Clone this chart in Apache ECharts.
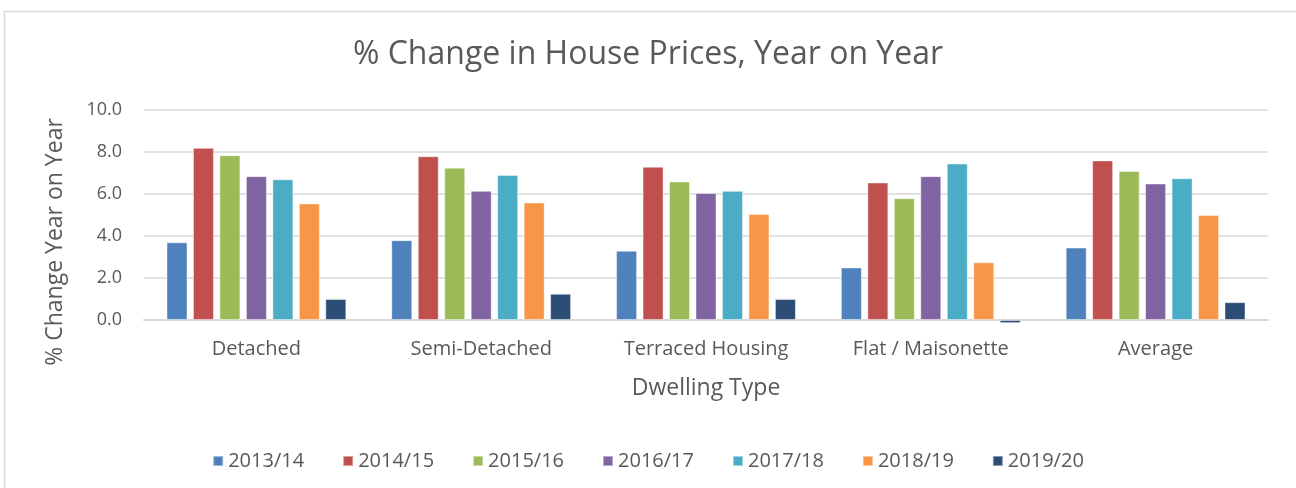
<!DOCTYPE html>
<html lang="en">
<head>
    <meta charset="UTF-8">
    <title>House Prices</title>
    <script src="https://cdn.jsdelivr.net/npm/echarts@6/dist/echarts.min.js"></script>
</head>
<body style="margin:0">
<div id="main" style="width: 1296px;height: 488px"></div>
<script type="text/javascript">
    // data
    var categories = ['Detached', 'Semi-Detached', 'Terraced Housing', 'Flat / Maisonette', 'Average'];
    var years = ['2013/14', '2014/15', '2015/16', '2016/17', '2017/18', '2018/19', '2019/20'];
    var y1314 = [3.7, 3.8, 3.3, 2.5, 3.45];
    var y1415 = [8.2, 7.8, 7.3, 6.55, 7.6];
    var y1516 = [7.85, 7.25, 6.6, 5.8, 7.1];
    var y1617 = [6.85, 6.15, 6.05, 6.85, 6.5];
    var y1718 = [6.7, 6.9, 6.15, 7.45, 6.75];
    var y1819 = [5.55, 5.6, 5.05, 2.75, 5.0];
    var y1920 = [1.0, 1.25, 1.0, -0.15, 0.85];
    var yearValues = [y1314, y1415, y1516, y1617, y1718, y1819, y1920];
    var colors = ['#4f81bd', '#c0504d', '#9bbb59', '#8064a2', '#4bacc6', '#f79646', '#2c4d75'];

    var font = 'Open Sans';
    var myChart = echarts.init(document.getElementById('main'));

    var series = [];
    for (var i = 0; i < years.length; i++) {
        series.push({
            name: years[i],
            type: 'bar',
            data: yearValues[i],
            barGap: '26%',
            barCategoryGap: '20%',
            clip: false, // the 2019/20 flat bar dips below 0.0
            z: 3,
            itemStyle: {
                color: colors[i],
                borderColor: 'rgba(255,255,255,0.45)',
                borderWidth: 1
            }
        });
    }

    var option = {
        animation: false,
        color: colors,
        textStyle: {fontFamily: font},
        graphic: [{
            type: 'rect',
            shape: {x: 4.5, y: 11.5, width: 1400, height: 600},
            style: {fill: 'none', stroke: '#d9d9d9', lineWidth: 1.5},
            silent: true
        }],
        title: {
            text: '% Change in House Prices, Year on Year',
            left: 'center',
            top: 34,
            textStyle: {fontFamily: font, fontSize: 32, fontWeight: 'normal', color: '#595959'}
        },
        legend: {
            bottom: 12,
            left: 'center',
            itemWidth: 10,
            itemHeight: 10,
            itemGap: 38,
            icon: 'rect',
            textStyle: {fontFamily: font, fontSize: 20, color: '#595959'},
            data: years
        },
        grid: {left: 144, right: 28, top: 110, bottom: 168, containLabel: false},
        xAxis: {
            type: 'category',
            data: categories,
            name: 'Dwelling Type',
            nameLocation: 'middle',
            nameGap: 57,
            nameTextStyle: {fontFamily: font, fontSize: 23, color: '#595959'},
            axisLine: {lineStyle: {color: '#d9d9d9', width: 2}},
            axisTick: {show: false},
            axisLabel: {margin: 19, fontFamily: font, fontSize: 20, color: '#595959'}
        },
        yAxis: {
            type: 'value',
            min: 0,
            max: 10,
            interval: 2,
            name: '% Change Year on Year',
            nameLocation: 'middle',
            nameGap: 77,
            nameTextStyle: {fontFamily: font, fontSize: 23, color: '#595959', padding: [0, 54, 0, 0]},
            axisLine: {show: false},
            axisTick: {show: false},
            axisLabel: {
                margin: 22, fontFamily: font, fontSize: 18, color: '#595959',
                formatter: function (v) { return v.toFixed(1); }
            },
            splitLine: {lineStyle: {color: '#d9d9d9', width: 1.5}}
        },
        series: series
    };
    myChart.setOption(option);
</script>
</body>
</html>
